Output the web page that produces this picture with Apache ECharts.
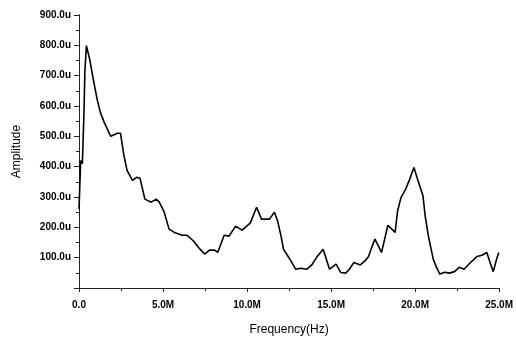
<!DOCTYPE html>
<html>
<head>
<meta charset="utf-8">
<script src="https://cdn.jsdelivr.net/npm/echarts@6/dist/echarts.min.js"></script>
<style>html,body{margin:0;padding:0;background:#fff;}#c{width:516px;height:341px;}</style>
</head>
<body>
<div id="c"></div>
<script>
const freq = [0, 0.1, 0.2, 0.29, 0.35, 0.44, 0.64, 0.83, 1.08, 1.27, 1.5, 1.89, 2.28, 2.47, 2.66, 2.86, 3.18, 3.43, 3.63, 3.92, 4.3, 4.59, 4.78, 5.07, 5.36, 5.65, 6.13, 6.42, 6.81, 7.2, 7.48, 7.77, 8.06, 8.26, 8.64, 8.93, 9.32, 9.7, 10.19, 10.57, 10.86, 11.34, 11.63, 11.82, 12.02, 12.17, 12.4, 12.6, 12.89, 13.18, 13.56, 13.85, 14.14, 14.53, 14.72, 14.91, 15.3, 15.58, 15.87, 16.07, 16.36, 16.74, 17.03, 17.23, 17.42, 17.61, 17.81, 18.0, 18.19, 18.38, 18.62, 18.81, 18.96, 19.16, 19.44, 19.64, 19.93, 20.21, 20.47, 20.6, 20.79, 21.08, 21.28, 21.47, 21.76, 22.05, 22.34, 22.63, 22.92, 23.21, 23.69, 23.98, 24.27, 24.46, 24.65, 24.85, 24.98];
const amplitude = [260, 420, 410, 566, 714, 799, 753, 694, 622, 579, 546, 500, 510, 510, 441, 388, 355, 365, 362, 293, 283, 293, 283, 250, 194, 184, 174, 174, 155, 128, 112, 125, 125, 118, 174, 171, 204, 191, 214, 266, 227, 227, 250, 221, 172, 128, 108, 90, 62, 65, 62, 76, 101, 128, 95, 62, 79, 51, 49, 60, 84, 76, 90, 104, 134, 161, 139, 117, 161, 207, 194, 183, 254, 298, 326, 353, 397, 348, 304, 238, 172, 95, 68, 46, 52, 49, 54, 68, 62, 79, 104, 108, 117, 84, 54, 95, 117];
const xTicks = [0, 5, 10, 15, 20, 25];
const xTickLabels = ['0.0', '5.0M', '10.0M', '15.0M', '20.0M', '25.0M'];
const yTickLabels = ['', '100.0u', '200.0u', '300.0u', '400.0u', '500.0u', '600.0u', '700.0u', '800.0u', '900.0u'];

const chart = echarts.init(document.getElementById('c'), null, {renderer: 'canvas'});
const lineStyle = {color: '#222', width: 1};
const labelFont = {color: '#000', fontFamily: 'Liberation Sans', fontWeight: 'bold', fontSize: 10};
chart.setOption({
  animation: false,
  backgroundColor: '#fff',
  grid: {left: 79, right: 5, top: 15, bottom: 52, containLabel: false},
  xAxis: [{
    type: 'value', min: 0, max: 25, interval: 5, position: 'bottom',
    name: 'Frequency(Hz)', nameLocation: 'middle', nameGap: 36,
    nameTextStyle: {color: '#000', fontFamily: 'Liberation Sans', fontSize: 12},
    axisLine: {show: true, onZero: false, lineStyle: lineStyle},
    axisTick: {show: true, inside: false, length: 4, lineStyle: lineStyle},
    minorTick: {show: true, splitNumber: 2, length: 3, lineStyle: lineStyle},
    splitLine: {show: false},
    axisLabel: Object.assign({margin: 12, formatter: v => xTickLabels[xTicks.indexOf(v)]}, labelFont)
  }, {
    type: 'value', min: 0, max: 25, interval: 5, position: 'top',
    axisLine: {show: true, lineStyle: lineStyle},
    axisTick: {show: true, inside: true, length: 4, lineStyle: lineStyle},
    axisLabel: {show: false}, splitLine: {show: false}
  }],
  yAxis: [{
    type: 'value', min: 0, max: 900, interval: 100, position: 'left',
    name: 'Amplitude', nameLocation: 'middle', nameGap: 56,
    nameTextStyle: {color: '#000', fontFamily: 'Liberation Sans', fontSize: 12},
    axisLine: {show: true, onZero: false, lineStyle: lineStyle},
    axisTick: {show: true, inside: false, length: 5, lineStyle: lineStyle},
    minorTick: {show: true, splitNumber: 2, length: 3, lineStyle: lineStyle},
    splitLine: {show: false},
    axisLabel: Object.assign({margin: 8, formatter: v => yTickLabels[Math.round(v / 100)]}, labelFont)
  }, {
    type: 'value', min: 0, max: 900, interval: 100, position: 'right',
    axisLine: {show: true, lineStyle: lineStyle},
    axisTick: {show: true, inside: true, length: 4, lineStyle: lineStyle},
    axisLabel: {show: false}, splitLine: {show: false}
  }],
  series: [{
    type: 'line', xAxisIndex: 0, yAxisIndex: 0,
    data: freq.map((f, i) => [f, amplitude[i]]),
    showSymbol: false, smooth: false,
    lineStyle: {color: '#000', width: 1.6}
  }]
});
</script>
</body>
</html>
